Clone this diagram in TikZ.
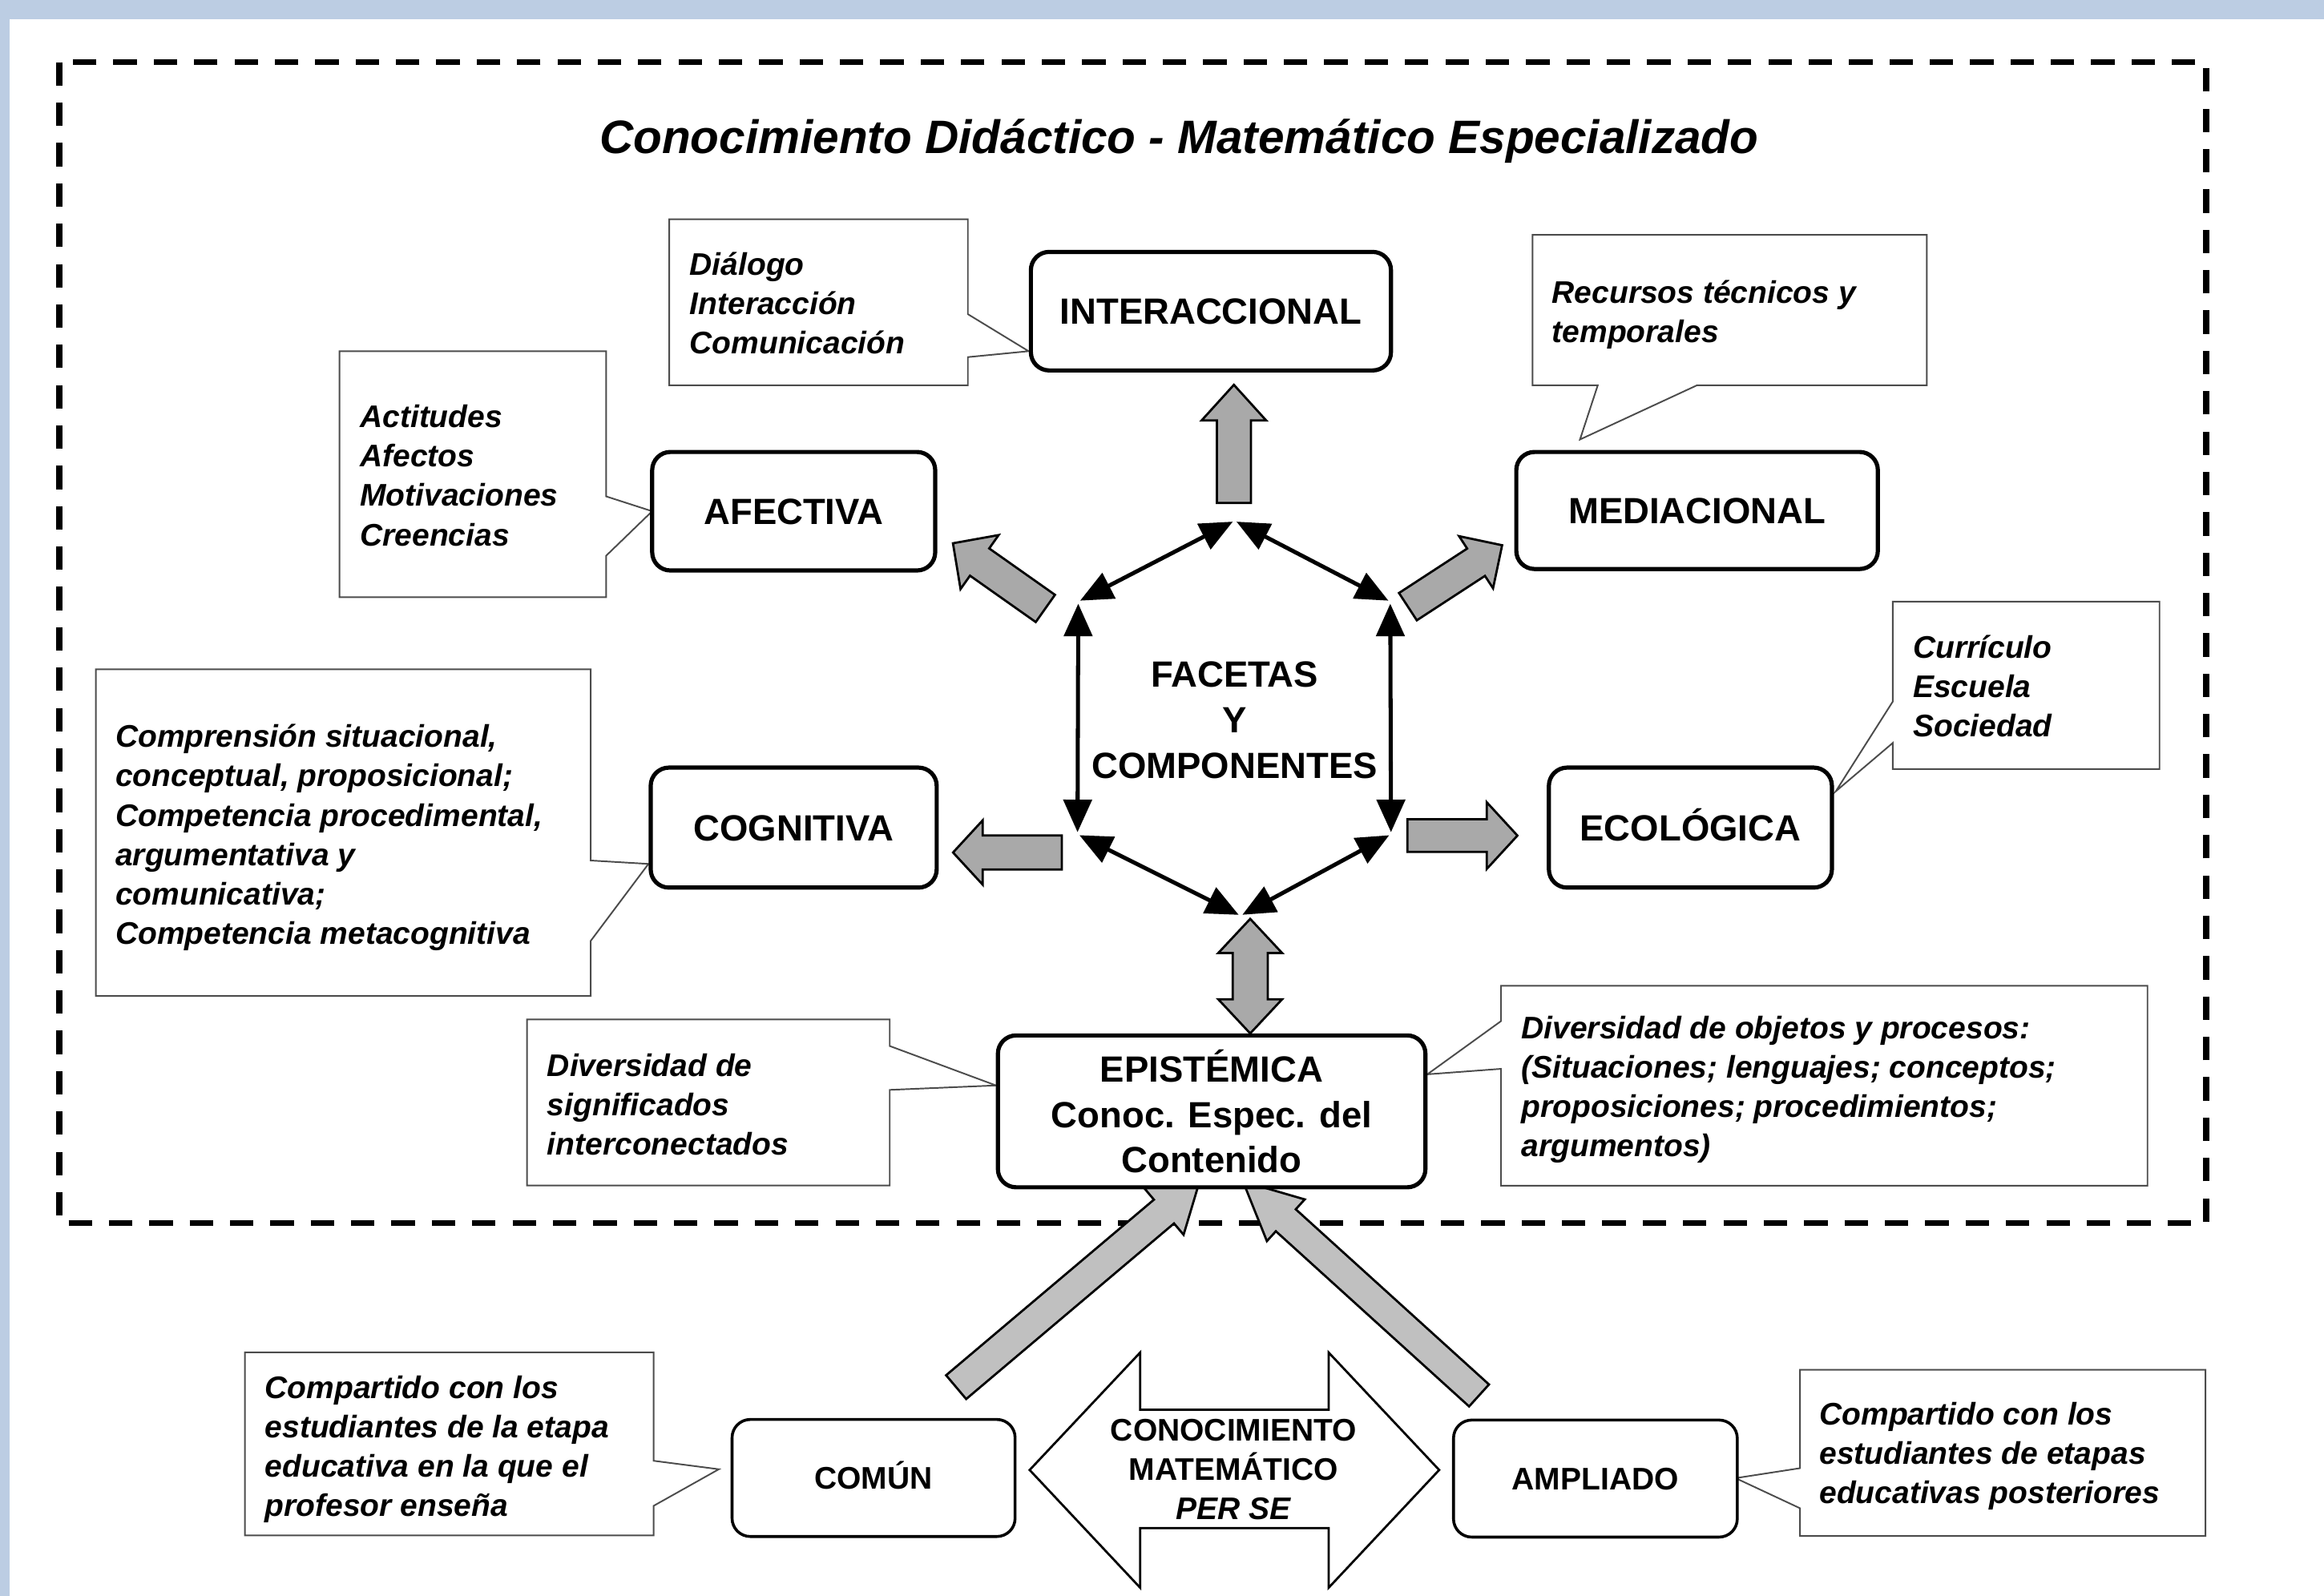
\PassOptionsToPackage{svgnames}{xcolor}
\documentclass[tikz,border=0pt]{standalone}
\usepackage{fontspec}
\setmainfont{Liberation Sans}
\usetikzlibrary{arrows.meta}

\tikzset{
  caja/.style={draw,rounded corners=7pt,fill=white,inner sep=0pt},
  etiqueta/.style={caja,line width=1.6pt,font=\fontsize{14}{17.4}\selectfont\bfseries,text height=10pt,text depth=0pt},
  faceta/.style={caja,line width=1.6pt,align=center,font=\fontsize{14}{17.4}\selectfont\bfseries},
  nivel/.style={caja,line width=1.1pt,font=\fontsize{12}{15}\selectfont\bfseries,text height=8.6pt,text depth=0pt},
  nota/.style={draw=black!70,line width=0.6pt,fill=white,line join=miter},
  notatexto/.style={anchor=north west,inner sep=0pt,align=left,font=\fontsize{12}{15.1}\selectfont\bfseries\itshape},
  bloque/.style={draw=black,line width=0.85pt,line join=miter},
  lado/.style={{Triangle[length=12.5pt,width=10.8pt]}-{Triangle[length=12.5pt,width=10.8pt]},line width=1.55pt,shorten <=0.8pt,shorten >=0.8pt}
}

\newcommand{\flecha}[7][DarkGray]{%
  \begin{scope}[shift={#2},rotate=#3]
    \filldraw[bloque,fill=#1] (0,-#5) -- ({#4-#7},-#5) -- ({#4-#7},-#6) -- (#4,0) -- ({#4-#7},#6) -- ({#4-#7},#5) -- (0,#5) -- cycle;
  \end{scope}}

\begin{document}
\begin{tikzpicture}[line join=miter,x=0.02cm,y=-0.02cm]
\useasboundingbox (0,0) rectangle (1568,1077);
\fill[LightSteelBlue!85] (0,0) rectangle (1568,13);
\fill[LightSteelBlue!85] (0,0) rectangle (6.5,1077);
\draw[line width=2.3pt,dash pattern=on 9pt off 6.5pt] (40,42) rectangle (1488.5,825.5);
\draw (795.5,103.6) node[anchor=base,font=\fontsize{18}{22}\selectfont\bfseries\itshape] (titulo) {Conocimiento Didáctico - Matemático Especializado};

% notas
\filldraw[nota] (451.5,148) -- (653,148) -- (653,212) -- (694,237) -- (653,241) -- (653,260) -- (451.5,260) -- cycle;
\draw (465,166.9) node[notatexto] (tDia) {\strut Diálogo\\Interacción\\Comunicación};
\filldraw[nota] (229,237) -- (409,237) -- (409,335) -- (440,345) -- (409,375) -- (409,403) -- (229,403) -- cycle;
\draw (242.6,269.7) node[notatexto] (tAct) {\strut Actitudes\\Afectos\\Motivaciones\\Creencias};
\filldraw[nota] (1034,158.5) -- (1300,158.5) -- (1300,260) -- (1145,260) -- (1066,296.6) -- (1078,260) -- (1034,260) -- cycle;
\draw (1046.8,185.5) node[notatexto] (tRec) {\strut Recursos técnicos y\\temporales};
\filldraw[nota] (1277,406) -- (1457,406) -- (1457,519) -- (1277,519) -- (1277,501.4) -- (1238.6,534) -- (1277,473.5) -- cycle;
\draw (1290.4,425.4) node[notatexto] (tCur) {\strut Currículo\\Escuela\\Sociedad};
\filldraw[nota] (64.7,451.7) -- (398.5,451.7) -- (398.5,580.7) -- (437.5,583) -- (398.5,635) -- (398.5,672.1) -- (64.7,672.1) -- cycle;
\draw (77.6,485.5) node[notatexto] (tCog) {\strut Comprensión situacional,\\conceptual, proposicional;\\Competencia procedimental,\\argumentativa y\\comunicativa;\\Competencia metacognitiva};
\filldraw[nota] (355.6,688) -- (600.3,688) -- (600.3,705.9) -- (672,732.5) -- (600.3,735.5) -- (600.3,800) -- (355.6,800) -- cycle;
\draw (368.9,707.4) node[notatexto] (tSig) {\strut Diversidad de\\significados\\interconectados};
\filldraw[nota] (1012.7,665.3) -- (1448.9,665.3) -- (1448.9,800.2) -- (1012.7,800.2) -- (1012.7,721.3) -- (963,725) -- (1012.7,689.1) -- cycle;
\draw (1026.2,682.1) node[notatexto] (tObj) {\strut Diversidad de objetos y procesos:\\(Situaciones; lenguajes; conceptos;\\proposiciones; procedimientos;\\argumentos)};
\filldraw[nota] (165.2,912.6) -- (441,912.6) -- (441,985.8) -- (485,991.5) -- (441,1016.2) -- (441,1036.2) -- (165.2,1036.2) -- cycle;
\draw (178.5,924.7) node[notatexto] (tCom) {\strut Compartido con los\\estudiantes de la etapa\\educativa en la que el\\profesor enseña};
\filldraw[nota] (1214.4,924.4) -- (1488,924.4) -- (1488,1036.6) -- (1214.4,1036.6) -- (1214.4,1017.8) -- (1171,997.5) -- (1214.4,990.8) -- cycle;
\draw (1227.2,942.6) node[notatexto] (tAmp) {\strut Compartido con los\\estudiantes de etapas\\educativas posteriores};

% facetas
\draw (817,210) node[etiqueta,minimum width=4.86cm,minimum height=1.6cm] (inter) {INTERACCIONAL};
\draw (535.5,345) node[etiqueta,minimum width=3.82cm,minimum height=1.6cm] (afec) {AFECTIVA};
\draw (1145,344.5) node[etiqueta,minimum width=4.88cm,minimum height=1.58cm] (medi) {MEDIACIONAL};
\draw (535.5,558.5) node[etiqueta,minimum width=3.86cm,minimum height=1.62cm] (cogn) {COGNITIVA};
\draw (1140.5,558.5) node[etiqueta,minimum width=3.82cm,minimum height=1.62cm] (ecol) {ECOLÓGICA};

\flecha{(832.5,339.4)}{90}{79.7}{11.5}{21.75}{24}
\flecha{(705.3,410.6)}{144.8}{76.3}{11.25}{22.3}{22}
\flecha{(949.9,409.4)}{33.1}{75.9}{11}{21}{21}
\flecha{(716.4,575.3)}{180}{73.4}{11.5}{21.7}{20}
\flecha{(949.6,563.9)}{0}{74.2}{11}{22.5}{20.7}
\filldraw[bloque,fill=DarkGray] (843.5,620.1) -- (865,643.1) -- (855.35,643.1) -- (855.35,674.4) -- (865,674.4) -- (843.5,697.4) -- (822,674.4) -- (831.65,674.4) -- (831.65,643.1) -- (822,643.1) -- cycle;

% hexagono
\coordinate (vT) at (833,351.4);
\coordinate (vUL) at (727.5,406);
\coordinate (vUR) at (938,406);
\coordinate (vLL) at (727,563);
\coordinate (vLR) at (938.5,563);
\coordinate (vB) at (837,618);
\draw[lado] (vT) -- (vUL);
\draw[lado] (vT) -- (vUR);
\draw[lado] (vUL) -- (vLL);
\draw[lado] (vUR) -- (vLR);
\draw[lado] (vLL) -- (vB);
\draw[lado] (vLR) -- (vB);
\draw (833,486) node[font=\fontsize{14}{17.5}\selectfont\bfseries,align=center] (facetas) {FACETAS\\Y\\COMPONENTES};

\flecha[Silver]{(645.1,936.1)}{40.2}{215}{10.5}{20.5}{31.4}
\flecha[Silver]{(997.9,941.7)}{137.8}{215}{10}{19}{39}
\draw (817.5,750) node[faceta,minimum width=5.77cm,minimum height=2.05cm] (epis) {EPISTÉMICA\\Conoc. Espec. del\\Contenido};

% conocimiento matematico
\draw (589.4,997.4) node[nivel,minimum width=3.82cm,minimum height=1.58cm] (comun) {COMÚN};
\draw (1076.4,997.8) node[nivel,minimum width=3.83cm,minimum height=1.58cm] (ampl) {AMPLIADO};
\filldraw[bloque,fill=white] (694.7,992) -- (769.2,912.8) -- (769.2,951.4) -- (896.5,951.4) -- (896.5,912.8) -- (971,992) -- (896.5,1071.4) -- (896.5,1031.2) -- (769.2,1031.2) -- (769.2,1071.4) -- cycle;
\draw (832.3,991.6) node[font=\fontsize{12}{15}\selectfont\bfseries,align=center] (perse) {CONOCIMIENTO\\MATEMÁTICO\\\textit{PER SE}};
\end{tikzpicture}
\end{document}
